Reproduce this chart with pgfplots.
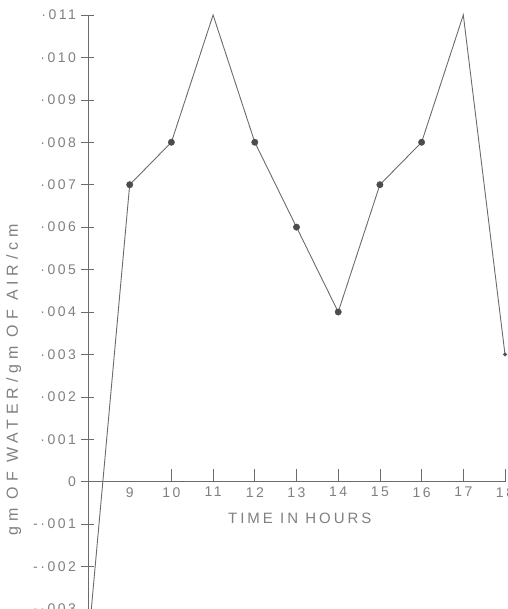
\documentclass[border=0pt]{standalone}
\usepackage{fontspec}
\setmainfont{Liberation Sans}
\usepackage{pgfplots}
\pgfplotsset{compat=1.18}
\definecolor{ink}{gray}{0.42}
\definecolor{txt}{gray}{0.5}
\definecolor{dot}{gray}{0.3}

\begin{document}
\begin{tikzpicture}
\begin{axis}[
    scale only axis, width=417pt, height=594pt,
    xmin=8, xmax=18, ymin=-0.003, ymax=0.011,
    clip=false,
    axis x line=middle, axis y line=left,
    axis line style={-, draw=ink, line width=0.6pt},
    hide obscured x ticks=false, hide obscured y ticks=false,
    scaled y ticks=false,
    /pgf/number format/assume math mode=true,
    xtick={10,...,18},
    extra x ticks={9},
    extra x tick style={major tick length=0pt},
    ytick={-0.003,-0.002,-0.001,0,0.001,0.002,0.003,0.004,0.005,0.006,0.007,0.008,0.009,0.010,0.011},
    yticklabels={-·003,-·002,-·001,0,·001,·002,·003,·004,·005,·006,·007,·008,·009,·010,·011},
    xtick align=inside, ytick align=center,
    major tick length=13pt,
    tick style={draw=ink, line width=0.6pt},
    ticklabel style={text=txt, font=\fontsize{14}{14}\selectfont\addfontfeature{LetterSpace=18}},
    yticklabel style={anchor=east, xshift=-2pt},
    xticklabel style={yshift=-2pt},
]
% water content, gm of water per gm of air per cm
\addplot[ink, line width=0.9pt] coordinates {
    (8.08,-0.003) (9,0.007) (10,0.008) (11,0.011) (12,0.008) (13,0.006)
    (14,0.004) (15,0.007) (16,0.008) (17,0.011) (18,0.003)};
\addplot[only marks, mark=*, mark size=3.2pt, dot] coordinates {
    (9,0.007) (10,0.008) (12,0.008) (13,0.006) (14,0.004) (15,0.007) (16,0.008)};
\addplot[only marks, mark=*, mark size=1.8pt, dot] coordinates {(18,0.003)};
\node[rotate=90, text=txt, font=\fontsize{16}{16}\selectfont\addfontfeature{LetterSpace=30}]
    at (axis cs:6.22,0.0024) {gm OF WATER/gm OF AIR/cm};
\node[text=txt, font=\fontsize{15}{15}\selectfont\addfontfeature{LetterSpace=20}]
    at (axis cs:13.08,-0.00087) {TIME IN HOURS};
\coordinate (bl) at (axis cs:5.89,-0.003);
\coordinate (tr) at (axis cs:18.07,0.011353);
\end{axis}
\pgfresetboundingbox
\useasboundingbox (bl) rectangle (tr);
\end{tikzpicture}
\end{document}
